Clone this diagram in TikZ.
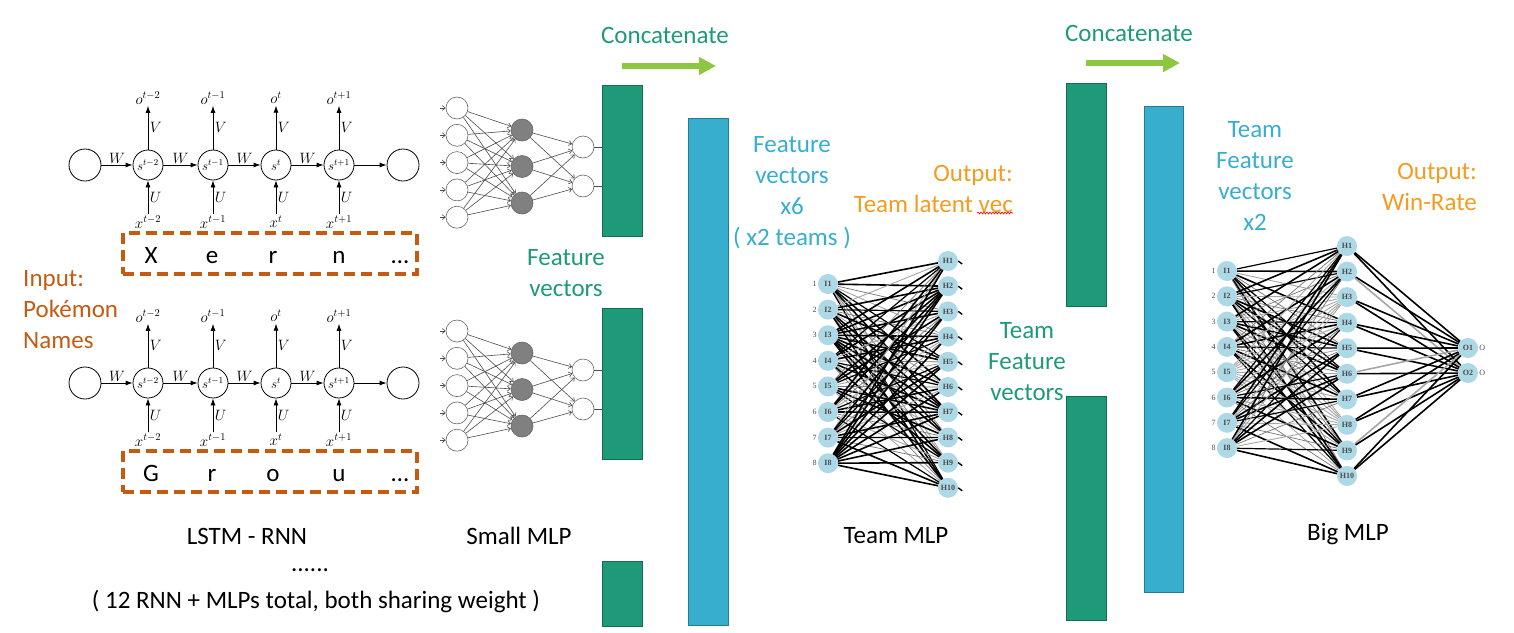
\RequirePackage{fix-cm}
\documentclass[tikz,border=0pt]{standalone}
\usepackage{fontspec}
\setmainfont{Carlito}
\newfontfamily\nnfont{Liberation Serif}
\usetikzlibrary{arrows.meta,backgrounds,decorations.pathmorphing}

\definecolor{featgreen}{RGB}{30,154,120}
\definecolor{featblue}{RGB}{55,174,205}
\definecolor{catgreen}{RGB}{141,198,63}
\definecolor{outorange}{RGB}{243,156,31}
\definecolor{inbrown}{RGB}{197,90,17}
\definecolor{nodeblue}{RGB}{173,216,230}

\begin{document}
\begin{tikzpicture}[x=1pt, y=-1pt,
    txt/.style={font=\fontsize{25}{31}\selectfont, align=center, inner sep=0},
    state/.style={circle, draw, line width=0.8, minimum size=30, inner sep=0, font=\fontsize{13}{14}\selectfont},
    ends/.style={circle, draw, line width=0.8, minimum size=32},
    mlab/.style={font=\fontsize{15}{17}\selectfont, inner sep=1.5},
    rnnarr/.style={line width=0.8, -{Latex[length=7,width=5]}},
    namebox/.style={draw=inbrown, line width=3.4, dash pattern=on 11 off 6, minimum width=294, minimum height=41},
    letter/.style={font=\fontsize{25}{28}\selectfont, anchor=base},
    mlpin/.style={circle, draw=gray!80!black, line width=0.6, minimum size=22, inner sep=0},
    mlphid/.style={mlpin, fill=gray},
    nnarr/.style={gray!60!black, line width=0.6, -{Straight Barb[length=3,width=5]}},
    gbar/.style={draw=featgreen!70!black, fill=featgreen, anchor=north west, minimum width=40},
    bbar/.style={draw=featblue!70!black, fill=featblue, anchor=north west, minimum width=40},
    unit/.style={circle, fill=nodeblue, minimum size=20, inner sep=0, font=\nnfont\fontsize{8}{9}\selectfont\bfseries, text=black!70},
    nnlab/.style={font=\nnfont\fontsize{8}{9}\selectfont, text=black!70, inner sep=1},
    catarr/.style={catgreen, line width=6, -{Triangle[length=17,width=17]}}]

    \useasboundingbox (0,0) rectangle (1514,632);

    % RNN rows
    \foreach \rw/\dy/\ca/\cb/\cc/\cd in {a/0/X/e/r/n, b/218/G/r/o/u}{
        \node[ends] (begin\rw) at (85,165+\dy) {};
        \node[ends] (end\rw) at (403,165+\dy) {};
        \foreach \i/\xx/\ex in {1/148/{t-2}, 2/213/{t-1}, 3/276/{t}, 4/339/{t+1}}{
            \node[state] (s\rw\i) at (\xx,165+\dy) {$s^{\ex}$};
            \node[mlab] (o\rw\i) at (\xx,98+\dy) {$o^{\ex}$};
            \node[mlab] (x\rw\i) at (\xx,222+\dy) {$x^{\ex}$};
            \draw[rnnarr] (s\rw\i) -- (o\rw\i) node[midway, right, mlab] {$V$};
            \draw[rnnarr] (x\rw\i) -- (s\rw\i) node[midway, right, mlab] {$U$};
        }
        \draw[rnnarr] (begin\rw) -- (s\rw1) node[midway, above, mlab] {$W$};
        \draw[rnnarr] (s\rw1) -- (s\rw2) node[midway, above, mlab] {$W$};
        \draw[rnnarr] (s\rw2) -- (s\rw3) node[midway, above, mlab] {$W$};
        \draw[rnnarr] (s\rw3) -- (s\rw4) node[midway, above, mlab] {$W$};
        \draw[rnnarr] (s\rw4) -- (end\rw);
        % name box
        \node[namebox] (name\rw) at (270,253.5+\dy) {};
        \node[letter] (ch\rw1) at (151,263+\dy) {\ca};
        \node[letter] (ch\rw2) at (212,263+\dy) {\cb};
        \node[letter] (ch\rw3) at (273,263+\dy) {\cc};
        \node[letter] (ch\rw4) at (339,263+\dy) {\cd};
        \node[letter] (ch\rw5) at (400,263+\dy) {\ldots};
    }

    % input text
    \node[txt, align=left, anchor=west, text=inbrown] (input) at (23,310) {Input:\\Pokémon\\Names};

    % Small MLPs
    \foreach \rw/\dy in {a/0, b/223}{
        \node[gbar, minimum height=151] (gbar\rw) at (602,85+\dy) {};
        \foreach \i in {1,...,5}
            \node[mlpin] (mi\rw\i) at (457,108+27.3*\i-27.3+\dy) {};
        \foreach \j/\yy in {1/130, 2/166.5, 3/203}
            \node[mlphid] (mh\rw\j) at (522,\yy+\dy) {};
        \foreach \k/\yy in {1/147, 2/186}
            \node[mlpin] (mo\rw\k) at (583,\yy+\dy) {};
        \foreach \i in {1,...,5}{
            \draw[nnarr] ([xshift=-6]mi\rw\i.west) -- (mi\rw\i);
            \foreach \j in {1,2,3}
                \draw[nnarr] (mi\rw\i) -- (mh\rw\j);
        }
        \foreach \j in {1,2,3}
            \foreach \k in {1,2}
                \draw[nnarr] (mh\rw\j) -- (mo\rw\k);
        \foreach \k in {1,2}
            \draw[gray!60!black, line width=0.6] (mo\rw\k) -- (mo\rw\k -| gbar\rw.west);
    }
    \node[gbar, minimum height=65] (gbarc) at (602,561) {};

    % Concatenate 1
    \node[txt, text=featgreen] (cat1) at (665,35) {Concatenate};
    \coordinate (cat1a) at (622,66);
    \coordinate (cat1b) at (716,66);
    \draw[catarr] (cat1a) -- (cat1b);
    \node[bbar, minimum height=507] (bbar1) at (688,118) {};

    \node[txt, text=featgreen] (featvec) at (566,273) {Feature\\vectors};
    \node[txt, text=featblue] (featsix) at (792,193) {Feature\\vectors\\x6\\( x2 teams )};
    \node[txt, align=right, anchor=east, text=outorange] (outteam) at (1013,189) {Output:\\Team latent vec};
    \draw[red, line width=0.6, decorate, decoration={snake, amplitude=1, segment length=3}] (977,213) -- (1013,213);

    % Team MLP
    \foreach \i in {1,...,8}
        \node[unit, label={[nnlab]left:\i}] (ti\i) at (828,284+25.6*\i-25.6) {I\i};
    \foreach \j in {1,...,10}
        \node[unit] (th\j) at (948,261+25.2*\j-25.2) {H\j};
    \begin{pgfonlayer}{background}
        \foreach \i in {1,...,8}
            \foreach \j in {1,...,10}{
                \pgfmathtruncatemacro{\w}{mod(3*\i+7*\j+\i*\j,5)}
                \pgfmathsetmacro{\lw}{{0.9,1.6,0.7,1.2,1.6}[\w]}
                \pgfmathtruncatemacro{\sh}{{35,100,55,100,100}[\w]}
                \draw[black!\sh, line width=\lw] (ti\i) -- (th\j);
            }
    \end{pgfonlayer}
    \foreach \j in {1,...,10}
        \draw[line width=1.4] (th\j.east) -- ++(4,3);

    % Concatenate 2
    \node[txt, text=featgreen] (cat2) at (1129,33) {Concatenate};
    \coordinate (cat2a) at (1086,63);
    \coordinate (cat2b) at (1180,63);
    \draw[catarr] (cat2a) -- (cat2b);
    \node[gbar, minimum height=223] (gbard) at (1066,83) {};
    \node[gbar, minimum height=224] (gbare) at (1066,396) {};
    \node[bbar, minimum width=39, minimum height=486] (bbar2) at (1144,106) {};

    \node[txt, text=featgreen] (teamfeat) at (1027,362) {Team\\Feature\\vectors};
    \node[txt, text=featblue] (teamtwo) at (1255,176) {Team\\Feature\\vectors\\x2};
    \node[txt, align=right, anchor=east, text=outorange] (outwin) at (1477,187) {Output:\\Win-Rate};

    % Big MLP
    \foreach \i in {1,...,8}
        \node[unit, label={[nnlab]left:\i}] (bi\i) at (1227,271+25.3*\i-25.3) {I\i};
    \foreach \j in {1,...,10}
        \node[unit] (bh\j) at (1347,246+25.55*\j-25.55) {H\j};
    \node[unit, label={[nnlab]right:O}] (bo1) at (1468,348) {O1};
    \node[unit, label={[nnlab]right:O}] (bo2) at (1468,373) {O2};
    \begin{pgfonlayer}{background}
        \foreach \i in {1,...,8}
            \foreach \j in {1,...,10}{
                \pgfmathtruncatemacro{\w}{mod(2*\i+5*\j+\i*\j,5)}
                \pgfmathsetmacro{\lw}{{0.9,1.6,0.7,1.2,1.6}[\w]}
                \pgfmathtruncatemacro{\sh}{{35,100,55,100,100}[\w]}
                \draw[black!\sh, line width=\lw] (bi\i) -- (bh\j);
            }
        \foreach \j in {1,...,10}
            \foreach \k in {1,2}{
                \pgfmathtruncatemacro{\g}{(\j==2 && \k==2) || (\j==6 && \k==1) || (\j==9 && \k==1)}
                \pgfmathtruncatemacro{\sh}{\g ? 35 : 100}
                \draw[black!\sh, line width=1.6] (bh\j) -- (bo\k);
            }
    \end{pgfonlayer}

    % Bottom labels
    \node[txt] (lblrnn) at (247,536) {LSTM - RNN};
    \node[txt] (lblsmall) at (519,536) {Small MLP};
    \node[txt] (lblteam) at (896,536) {Team MLP};
    \node[txt] (lblbig) at (1348,534) {Big MLP};
    \node[txt] (dots) at (310,570) {......};
    \node[txt] (total) at (316,601) {( 12 RNN + MLPs total, both sharing weight )};

\end{tikzpicture}
\end{document}
